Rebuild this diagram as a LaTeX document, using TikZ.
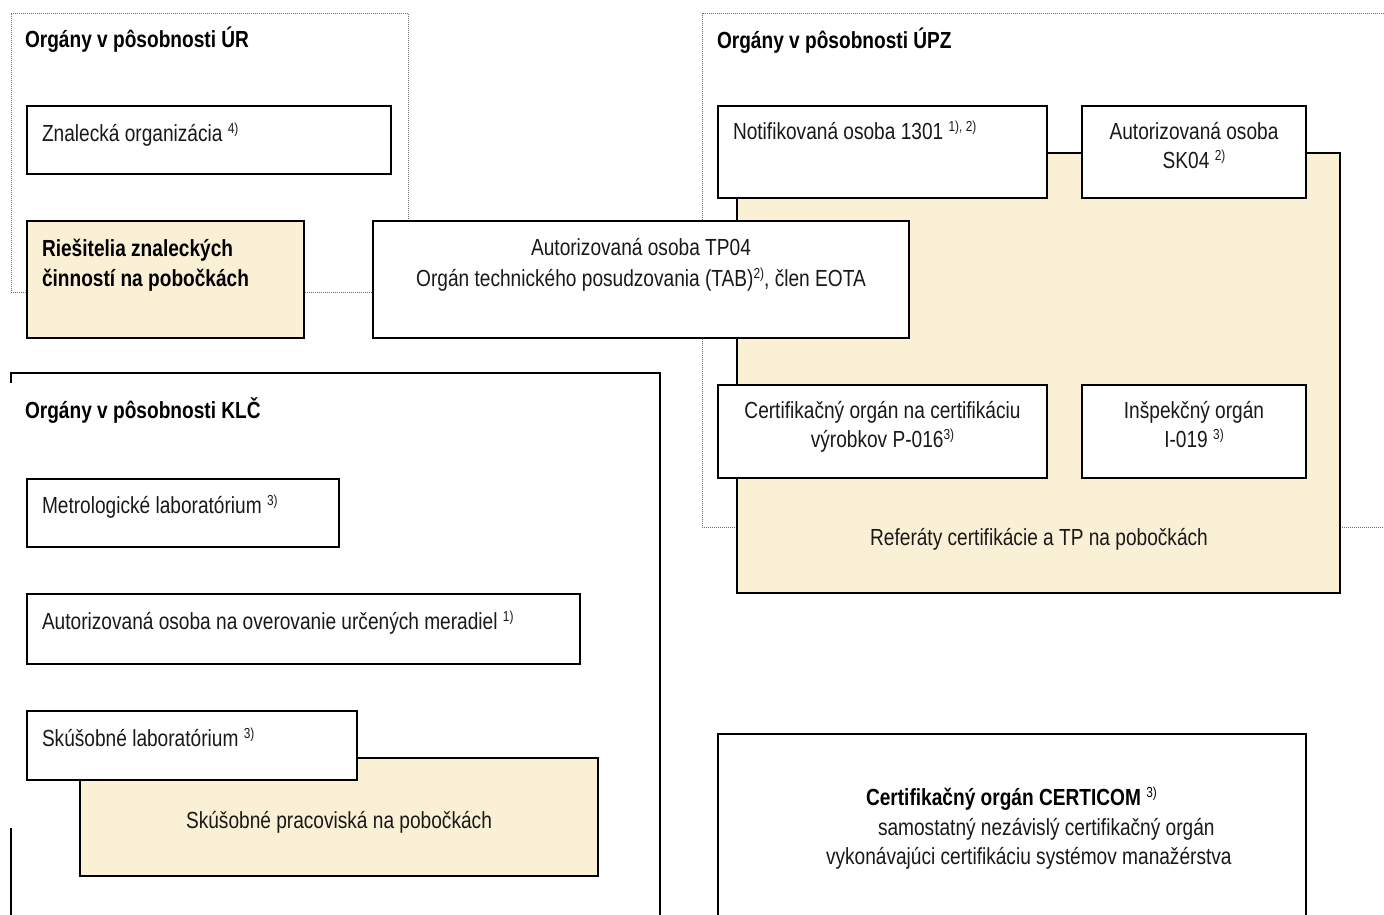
\documentclass[tikz,border=0pt]{standalone}
\usepackage{fontspec}
\setmainfont{Liberation Sans}[FakeStretch=0.82]
\definecolor{beige}{RGB}{250,240,214}
\newcommand\fnote[1]{\raisebox{7.5pt}{\fontsize{14.5}{14.5}\selectfont\mdseries #1}}
\begin{document}
\begin{tikzpicture}[x=1pt,y=-1pt,
  every node/.style={inner sep=0pt, outer sep=0pt},
  wbox/.style={draw=black, line width=1.1pt, fill=white, anchor=north west},
  bbox/.style={wbox, fill=beige},
  frame/.style={draw=gray!85!black, densely dotted, line width=1pt, anchor=north west},
  solidframe/.style={draw=black, line width=1.1pt},
  txt/.style={font=\fontsize{23.3}{30}\selectfont, text=black!90, anchor=base west},
  ctxt/.style={font=\fontsize{23.3}{30}\selectfont, text=black!90, anchor=base},
  ttl/.style={font=\fontsize{23.3}{30}\selectfont\bfseries, anchor=base west}]
\useasboundingbox (0,0) rectangle (1384,914);
\clip (0,0) rectangle (1384,914);
\fill[white] (0,0) rectangle (1384,914);

% dotted group frames
\node[frame, minimum width=397pt, minimum height=279pt] (urframe) at (11,13) {};
\node[frame, minimum width=720pt, minimum height=514pt] (upzframe) at (702,13) {};

% UR group
\node[wbox, minimum width=364pt, minimum height=68pt] (znal) at (27,106) {};
\node[bbox, minimum width=277pt, minimum height=117pt] (ries) at (27,221) {};

% UPZ group
\node[bbox, minimum width=603pt, minimum height=440pt] (refer) at (737,153) {};
\node[wbox, minimum width=329pt, minimum height=92pt] (notif) at (718,106) {};
\node[wbox, minimum width=224pt, minimum height=92pt] (sk04) at (1082,106) {};
\node[wbox, minimum width=329pt, minimum height=93pt] (p016) at (718,385) {};
\node[wbox, minimum width=224pt, minimum height=93pt] (insp) at (1082,385) {};
\node[wbox, minimum width=536pt, minimum height=117pt] (tp04) at (373,221) {};

% KLC group
\node[anchor=north west, minimum width=649pt, minimum height=560pt] (klc) at (11,373) {};
\coordinate (klcgap) at (11,828);
\draw[solidframe] (klc.south east) -- (klc.north east) -- (klc.north west) -- ++(0,10);
\draw[solidframe] (klcgap) -- (klc.south west);
\node[wbox, minimum width=312pt, minimum height=68pt] (metr) at (27,479) {};
\node[wbox, minimum width=553pt, minimum height=70pt] (merad) at (27,594) {};
\node[bbox, minimum width=518pt, minimum height=118pt] (skprac) at (80,758) {};
\node[wbox, minimum width=330pt, minimum height=69pt] (sklab) at (27,711) {};

% CERTICOM
\node[wbox, minimum width=588pt, minimum height=210pt] (certi) at (718,734) {};

% texts
\node[ttl] (turt) at (25,47) {Orgány v pôsobnosti ÚR};
\node[ttl] (tupz) at (717,48) {Orgány v pôsobnosti ÚPZ};
\node[ttl] (tklc) at (25,418) {Orgány v pôsobnosti KLČ};

\node[txt] (tznal) at (42,141) {Znalecká organizácia \fnote{4)}};
\node[ttl] (tries1) at (42,256) {Riešitelia znaleckých};
\node[ttl] (tries2) at (42,286) {činností na pobočkách};
\node[ctxt] (ttp1) at (641,255) {Autorizovaná osoba TP04};
\node[ctxt] (ttp2) at (641,286) {Orgán technického posudzovania (TAB)\fnote{2)}, člen EOTA};

\node[txt] (tnot) at (733,139) {Notifikovaná osoba 1301 \fnote{1), 2)}};
\node[ctxt] (tsk1) at (1194,139) {Autorizovaná osoba};
\node[ctxt] (tsk2) at (1194,168) {SK04 \fnote{2)}};
\node[ctxt] (tp1) at (882.5,418) {Certifikačný orgán na certifikáciu};
\node[ctxt] (tp2) at (882.5,447) {výrobkov P-016\fnote{3)}};
\node[ctxt] (ti1) at (1194,418) {Inšpekčný orgán};
\node[ctxt] (ti2) at (1194,447) {I-019 \fnote{3)}};
\node[ctxt] (tref) at (1039,545) {Referáty certifikácie a TP na pobočkách};

\node[txt] (tmetr) at (42,513) {Metrologické laboratórium \fnote{3)}};
\node[txt] (tmer) at (42,629) {Autorizovaná osoba na overovanie určených meradiel \fnote{1)}};
\node[txt] (tsklab) at (42,746) {Skúšobné laboratórium \fnote{3)}};
\node[ctxt] (tskpr) at (339,828) {Skúšobné pracoviská na pobočkách};

\node[ttl] (tc1) at (866,805) {Certifikačný orgán CERTICOM \fnote{3)}};
\node[txt] (tc2) at (878,835) {samostatný nezávislý certifikačný orgán};
\node[txt] (tc3) at (826,864) {vykonávajúci certifikáciu systémov manažérstva};
\end{tikzpicture}
\end{document}
